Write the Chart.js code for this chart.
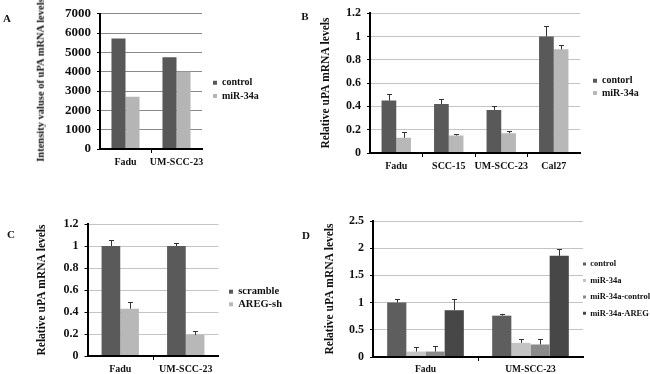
<!DOCTYPE html>
<html><head><meta charset="utf-8">
<script src="https://cdn.jsdelivr.net/npm/chart.js@4/dist/chart.umd.min.js"></script>
<style>
html,body{margin:0;padding:0;background:#fff;width:650px;height:374px;overflow:hidden;position:relative;}
canvas{position:absolute;}
.lbl{position:absolute;font:bold 11px "Liberation Serif","Times New Roman",serif;color:#111;line-height:1;transform:translate(-50%,-50%);z-index:2;}
.ytitle{position:absolute;font:bold 10.5px "Liberation Serif","Times New Roman",serif;color:#111;white-space:nowrap;line-height:1;transform:translate(-50%,-50%) rotate(-90deg);z-index:2;}
</style></head><body>
<canvas id="cA" width="312" height="187" style="left:0;top:0"></canvas>
<canvas id="cB" width="380" height="187" style="left:312px;top:0"></canvas>
<canvas id="cC" width="312" height="187" style="left:0;top:187px"></canvas>
<canvas id="cD" width="380" height="187" style="left:312px;top:187px"></canvas>
<div class="lbl" style="left:7px;top:18px">A</div>
<div class="lbl" style="left:305px;top:16px">B</div>
<div class="lbl" style="left:11px;top:234px">C</div>
<div class="lbl" style="left:306px;top:235px">D</div>
<div class="ytitle" style="left:41px;top:80px">Intensity valuse of uPA mRNA levels</div>
<script>
// ---------- DATA ----------
// Panel A
const categoriesA = ['Fadu', 'UM-SCC-23'];
const seriesNamesA = ['control', 'miR-34a'];
const controlA = [5720, 4750];
const mir34aA = [2700, 4000];
const yTicksA = ['0', '1000', '2000', '3000', '4000', '5000', '6000', '7000'];

// Panel B
const categoriesB = ['Fadu', 'SCC-15', 'UM-SCC-23', 'Cal27'];
const seriesNamesB = ['contorl', 'miR-34a'];
const controlB = [0.45, 0.42, 0.37, 1.0];
const controlErrB = [0.055, 0.04, 0.03, 0.09];
const mir34aB = [0.13, 0.15, 0.17, 0.89];
const mir34aErrB = [0.05, 0.01, 0.02, 0.04];
const yTicksB = ['0', '0.2', '0.4', '0.6', '0.8', '1', '1.2'];

// Panel C
const categoriesC = ['Fadu', 'UM-SCC-23'];
const seriesNamesC = ['scramble', 'AREG-sh'];
const scrambleC = [1.0, 1.0];
const scrambleErrC = [0.055, 0.025];
const aregShC = [0.43, 0.19];
const aregShErrC = [0.06, 0.04];
const yTicksC = ['0', '0.2', '0.4', '0.6', '0.8', '1', '1.2'];

// Panel D
const categoriesD = ['Fadu', 'UM-SCC-23'];
const seriesNamesD = ['control', 'miR-34a', 'miR-34a-control', 'miR-34a-AREG'];
const controlD = [1.0, 0.76];
const controlErrD = [0.07, 0.03];
const mir34aD = [0.1, 0.26];
const mir34aErrD = [0.08, 0.08];
const mirCtrlD = [0.1, 0.23];
const mirCtrlErrD = [0.11, 0.11];
const mirAregD = [0.86, 1.86];
const mirAregErrD = [0.21, 0.12];
const yTicksD = ['0', '0.5', '1', '1.5', '2', '2.5'];

// ---------- CHART SETUP ----------
const SERIF = '"Liberation Serif","Times New Roman",serif';
Chart.defaults.font.family = SERIF;
Chart.defaults.font.weight = 'bold';
Chart.defaults.color = '#111';

function errorBarsPlugin(errs) {
  return {
    id: 'errorBars',
    afterDatasetsDraw(chart) {
      const ctx = chart.ctx, ys = chart.scales.y;
      ctx.save();
      ctx.strokeStyle = '#333';
      ctx.lineWidth = 1;
      chart.data.datasets.forEach((ds, di) => {
        const e = errs[di];
        if (!e) return;
        chart.getDatasetMeta(di).data.forEach((bar, i) => {
          const err = e[i];
          if (err == null) return;
          const x = Math.round(bar.x) + 0.5;
          const y0 = bar.y;
          const y1 = Math.round(ys.getPixelForValue(ds.data[i] + err)) + 0.5;
          ctx.beginPath();
          ctx.moveTo(x, y0); ctx.lineTo(x, y1);
          ctx.moveTo(x - 2.5, y1); ctx.lineTo(x + 2.5, y1);
          ctx.stroke();
        });
      });
      ctx.restore();
    }
  };
}

function legendPlacePlugin(x, cy) {
  return {
    id: 'legendPlace',
    afterLayout(chart) {
      const lg = chart.legend;
      if (!lg) return;
      const pad = lg.options.labels.padding;
      const dx = x - lg.left - pad;
      lg.left += dx; lg.right += dx;
      const dy = cy - (lg.top + lg.bottom) / 2;
      lg.top += dy; lg.bottom += dy;
    }
  };
}

function buildChart(o) {
  const canvas = document.getElementById(o.id);
  const ch = canvas.height;
  const padding = {top: o.area.top, right: 60, bottom: 0, left: 0};
  const datasets = o.series.map((d, i) => ({
    label: o.names[i],
    data: d,
    backgroundColor: o.colors[i],
    borderWidth: 0,
    categoryPercentage: o.catPct,
    barPercentage: 1
  }));
  const cfg = {
    type: 'bar',
    data: {labels: o.labels, datasets},
    options: {
      responsive: false,
      animation: false,
      devicePixelRatio: 1,
      layout: {padding},
      plugins: {
        tooltip: {enabled: false},
        legend: {
          position: 'right',
          align: 'center',
          labels: {
            boxWidth: o.lg.box, boxHeight: o.lg.box, padding: o.lg.pad,
            font: {size: o.lg.font, weight: 'bold', family: SERIF}, color: '#111'
          }
        }
      },
      scales: {
        x: {
          ticks: {font: {size: o.catFont, weight: 'bold'}, padding: 3, maxRotation: 0, autoSkip: false, color: '#111'},
          grid: {
            display: true, drawOnChartArea: false, drawTicks: true, tickLength: 4, offset: true,
            tickColor: c => (c.index === undefined || c.index === 0) ? 'rgba(0,0,0,0)' : '#000'
          },
          border: {display: true, color: '#000', width: 2, z: 1},
          afterFit: s => { s.height = ch - o.area.bottom; }
        },
        y: {
          min: 0, max: o.ymax,
          ticks: {
            stepSize: o.ystep, padding: 6, color: '#111',
            font: {size: o.tickFont, weight: 'bold'},
            callback: (v, i) => (o.ticks[i] !== undefined ? o.ticks[i] : String(v))
          },
          grid: {color: o.gridColor, lineWidth: 1, drawTicks: true, tickLength: 3, tickColor: '#000'},
          border: {display: true, color: '#000', width: 2, z: 1},
          title: o.title ? {
            display: true, text: o.title, color: '#111',
            font: {size: o.titleSize, weight: 'bold'},
            padding: {top: o.titleX - o.titleSize * 0.6, bottom: 0}
          } : {display: false},
          afterFit: s => { s.width = o.area.left; }
        }
      }
    },
    plugins: [errorBarsPlugin(o.errs || []), legendPlacePlugin(o.lg.x, o.lg.cy)]
  };
  const chart = new Chart(canvas, cfg);
  for (let k = 0; k < 3; k++) {
    const a = chart.chartArea;
    const p = chart.config.options.layout.padding;
    p.top += o.area.top - a.top;
    p.right += a.right - o.area.right;
    p.left += o.area.left - a.left;
    p.bottom += a.bottom - o.area.bottom;
    chart.update('none');
  }
  return chart;
}

buildChart({
  id: 'cA', labels: categoriesA, names: seriesNamesA,
  series: [controlA, mir34aA], colors: ['#585858', '#b5b5b5'],
  catPct: 0.55, ymax: 7000, ystep: 1000, ticks: yTicksA,
  tickFont: 13, catFont: 10, gridColor: '#8a8a8a',
  area: {left: 100, right: 202, top: 12, bottom: 149},
  lg: {x: 213, cy: 89.3, font: 10, pad: 3.3, box: 4}
});

buildChart({
  id: 'cB', labels: categoriesB, names: seriesNamesB,
  series: [controlB, mir34aB], errs: [controlErrB, mir34aErrB], colors: ['#595959', '#b8b8b8'],
  catPct: 0.56, ymax: 1.2, ystep: 0.2, ticks: yTicksB,
  tickFont: 12, catFont: 10, gridColor: '#c4c4c4',
  title: 'Relative uPA mRNA levels', titleSize: 11.5, titleX: 14,
  area: {left: 58, right: 268, top: 6, bottom: 153},
  lg: {x: 281, cy: 86.9, font: 10, pad: 2.3, box: 4}
});

buildChart({
  id: 'cC', labels: categoriesC, names: seriesNamesC,
  series: [scrambleC, aregShC], errs: [scrambleErrC, aregShErrC], colors: ['#5a5a5a', '#b8b8b8'],
  catPct: 0.57, ymax: 1.2, ystep: 0.2, ticks: yTicksC,
  tickFont: 12, catFont: 10, gridColor: '#c4c4c4',
  title: 'Relative uPA mRNA levels', titleSize: 11.5, titleX: 42.5,
  area: {left: 87.5, right: 218.5, top: 37, bottom: 169},
  lg: {x: 229, cy: 111, font: 10.5, pad: 2.1, box: 4}
});

buildChart({
  id: 'cD', labels: categoriesD, names: seriesNamesD,
  series: [controlD, mir34aD, mirCtrlD, mirAregD],
  errs: [controlErrD, mir34aErrD, mirCtrlErrD, mirAregErrD],
  colors: ['#5e5e5e', '#c4c4c4', '#8a8a8a', '#474747'],
  catPct: 0.73, ymax: 2.5, ystep: 0.5, ticks: yTicksD,
  tickFont: 12, catFont: 9.5, gridColor: '#c4c4c4',
  title: 'Relative uPA mRNA levels', titleSize: 11.5, titleX: 18,
  area: {left: 61, right: 271, top: 34, bottom: 170},
  lg: {x: 271, cy: 101.7, font: 8.5, pad: 7.9, box: 3}
});
</script>
</body></html>
